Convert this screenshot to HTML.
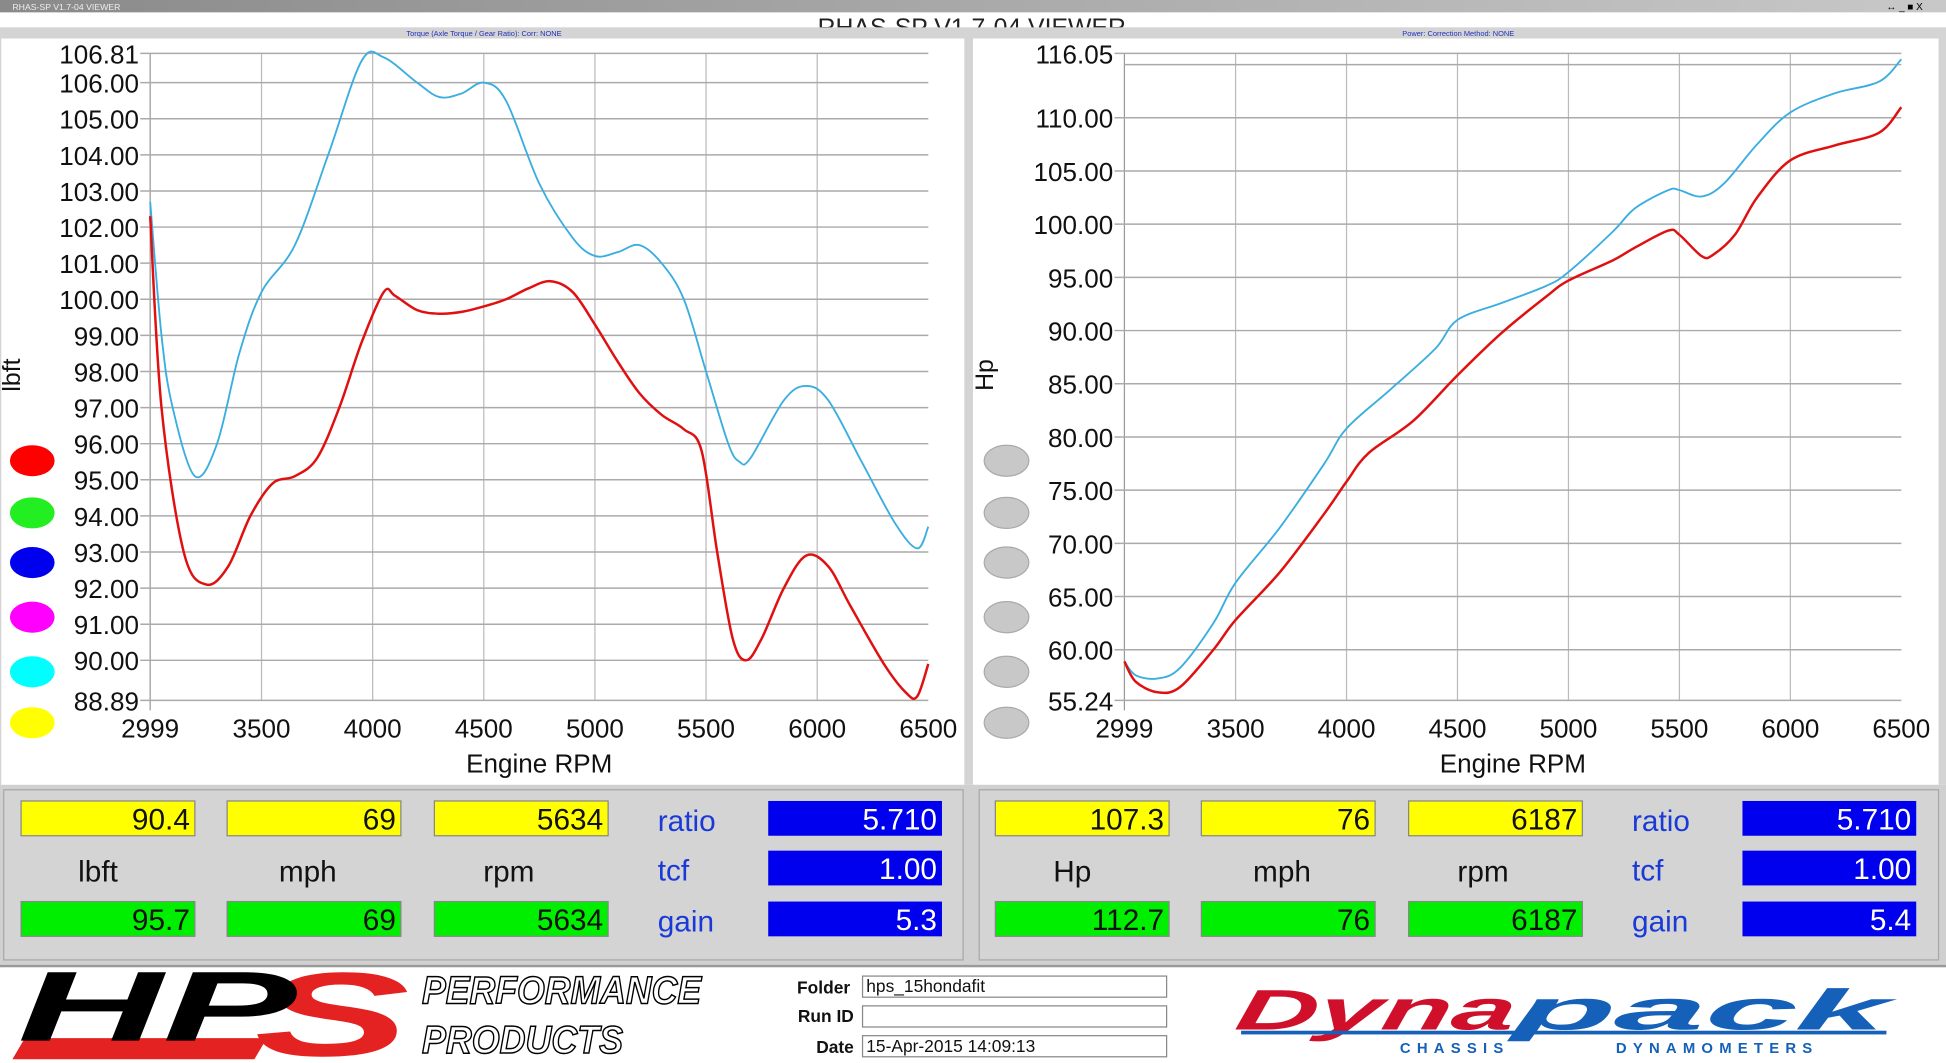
<!DOCTYPE html>
<html><head><meta charset="utf-8"><style>
html,body{margin:0;padding:0;background:#fff;overflow:hidden}
svg{display:block}
text{font-family:"Liberation Sans",Arial,sans-serif}
</style></head><body>
<svg id="s" width="1946" height="1063" viewBox="0 0 1568 856" preserveAspectRatio="none" xmlns="http://www.w3.org/2000/svg">
<defs><linearGradient id="tb" x1="0" y1="0" x2="1" y2="0"><stop offset="0" stop-color="#8a8a8a"/><stop offset="1" stop-color="#c8c8c8"/></linearGradient></defs>
<rect x="0" y="0" width="1568" height="856" fill="#fff"/>
<rect x="0" y="0" width="1568" height="10" fill="url(#tb)"/>
<text x="10" y="8" font-size="7" fill="#eee">RHAS-SP V1.7-04  VIEWER</text>
<text x="1520" y="8" font-size="8" fill="#000">↔ _ ■ X</text>
<rect x="0" y="10" width="1568" height="12" fill="#fff"/>
<text x="783" y="29" font-size="20" text-anchor="middle" fill="#222">RHAS-SP V1.7-04  VIEWER</text>
<rect x="0" y="22" width="1568" height="9" fill="#d4d4d4"/>
<text x="390" y="29" font-size="6" fill="#2233bb" text-anchor="middle">Torque (Axle Torque / Gear Ratio):     Corr: NONE</text>
<text x="1175" y="29" font-size="6" fill="#2233bb" text-anchor="middle">Power:     Correction Method: NONE</text>
<rect x="0" y="31" width="1568" height="601" fill="#d4d4d4"/>
<rect x="1" y="31" width="776" height="601" fill="#fff"/>
<rect x="784" y="31" width="778" height="601" fill="#fff"/>
<g id="charts"></g>
<rect x="0" y="632" width="1568" height="146" fill="#d0d0d0"/>
<rect x="3" y="636" width="773" height="137" fill="#d4d4d4" stroke="#a8a8a8"/>
<rect x="789" y="636" width="773" height="137" fill="#d4d4d4" stroke="#a8a8a8"/>
<g id="panels" font-size="24"></g>
<rect x="0" y="777" width="1568" height="2" fill="#999"/>
<rect x="0" y="779" width="1568" height="77" fill="#fff"/>
<!-- HPS logo -->
<g>
<path d="M20 836 L215 836 L205 853 L10 853 Z" fill="#e52222"/>
<text x="205" y="850" font-size="96" font-weight="bold" font-style="italic" fill="#e52222" textLength="125" lengthAdjust="spacingAndGlyphs">S</text>
<text x="14" y="838" font-size="80" font-weight="bold" font-style="italic" fill="#000" textLength="225" lengthAdjust="spacingAndGlyphs">HP</text>
<text x="340" y="808" font-size="31" font-style="italic" font-weight="bold" fill="#fff" stroke="#000" stroke-width="1.2" textLength="225" lengthAdjust="spacingAndGlyphs">PERFORMANCE</text>
<text x="340" y="848" font-size="31" font-style="italic" font-weight="bold" fill="#fff" stroke="#000" stroke-width="1.2" textLength="162" lengthAdjust="spacingAndGlyphs">PRODUCTS</text>
</g>
<g font-size="14" font-weight="bold" fill="#111" text-anchor="end">
<text x="685" y="800">Folder</text><text x="688" y="823">Run ID</text><text x="688" y="848">Date</text>
</g>
<g stroke="#888" fill="#fff">
<rect x="695" y="786" width="245" height="17"/><rect x="695" y="810" width="245" height="17"/><rect x="695" y="834" width="245" height="17"/>
</g>
<g font-size="14" fill="#111"><text x="698" y="799">hps_15hondafit</text><text x="698" y="847">15-Apr-2015  14:09:13</text></g>
<g font-style="italic" font-weight="bold">
<text x="995" y="829" font-size="46" fill="#d0102a" transform="skewX(-10) translate(145 0)" textLength="225" lengthAdjust="spacingAndGlyphs">Dyna</text>
<text x="1220" y="829" font-size="46" fill="#1560b8" transform="skewX(-10) translate(145 0)" textLength="300" lengthAdjust="spacingAndGlyphs">pack</text>
</g>
<rect x="1000" y="830" width="520" height="3" fill="#1560b8"/>
<text x="1128" y="848" font-size="12" font-weight="bold" fill="#1560b8" letter-spacing="5">CHASSIS</text>
<text x="1302" y="848" font-size="12" font-weight="bold" fill="#1560b8" letter-spacing="5">DYNAMOMETERS</text>
</svg>
<script>
var NS="http://www.w3.org/2000/svg";
function el(p,tag,a,txt){var e=document.createElementNS(NS,tag);for(var k in a)e.setAttribute(k,a[k]);if(txt!=null)e.textContent=txt;p.appendChild(e);return e;}
var G=document.getElementById('charts');
function chart(o){
 var X=function(r){return o.x0+(r-2999)/3501*(o.x1-o.x0);};
 var Y=function(v){return o.y0+(o.vmax-v)/(o.vmax-o.vmin)*(o.y1-o.y0);};
 [3500,4000,4500,5000,5500,6000].forEach(function(r){el(G,'line',{x1:X(r),x2:X(r),y1:o.y0,y2:o.y1,stroke:'#bbb','stroke-width':1});});
 el(G,'line',{x1:o.x0,x2:o.x0,y1:o.y0,y2:o.y1+8,stroke:'#999','stroke-width':1});
 o.ticks.forEach(function(v){var y=Y(v);el(G,'line',{x1:o.x0-8,x2:o.x1,y1:y,y2:y,stroke:'#aaa','stroke-width':1.2});
  el(G,'text',{x:o.x0-9,y:y+8,'font-size':21,'text-anchor':'end',fill:'#111'},v.toFixed(2));});
 (o.extra||[]).forEach(function(v){var y=Y(v);el(G,'line',{x1:o.x0,x2:o.x1,y1:y,y2:y,stroke:'#aaa','stroke-width':1.2});});
 [2999,3500,4000,4500,5000,5500,6000,6500].forEach(function(r){el(G,'text',{x:X(r),y:594,'font-size':21,'text-anchor':'middle',fill:'#111'},String(r));});
 el(G,'text',{x:(o.x0+o.x1)/2,y:622,'font-size':21,'text-anchor':'middle',fill:'#111'},'Engine RPM');
 el(G,'text',{x:0,y:0,'font-size':20,'text-anchor':'middle',fill:'#111',transform:'translate('+o.lx+' 302) rotate(-90)'},o.ylabel);
 o.series.forEach(function(s){var p=s.d.map(function(q){return [X(q[0]),Y(q[1])];});
  var d='M'+p[0][0]+' '+p[0][1];
  for(var i=0;i<p.length-1;i++){var a=p[i-1]||p[i],b=p[i],c=p[i+1],e=p[i+2]||c;
   d+=' C'+(b[0]+(c[0]-a[0])/6)+' '+(b[1]+(c[1]-a[1])/6)+' '+(c[0]-(e[0]-b[0])/6)+' '+(c[1]-(e[1]-b[1])/6)+' '+c[0]+' '+c[1];}
  el(G,'path',{d:d,fill:'none',stroke:s.c,'stroke-width':s.w});});
 o.dots.forEach(function(c,i){el(G,'ellipse',{cx:o.dx,cy:[371,413,453,497,541,582][i],rx:18,ry:12.5,fill:c,stroke:c=='#c8c8c8'?'#aaa':'none'});});
}
var t=[];for(var v=106;v>=90;v--)t.push(v);t.unshift(106.81);t.push(88.89);
chart({x0:121,x1:748,y0:43,y1:564,vmin:88.89,vmax:106.81,ticks:t,ylabel:'lbft',lx:16,dx:26,
 dots:['#ff0000','#22ee22','#0000ee','#ff00ff','#00ffff','#ffff00'],
 series:[
 {c:'#3aaee0',w:1.5,d:[[2999,102.7],[3050,99],[3100,97],[3200,95.1],[3300,96],[3400,98.5],[3500,100.2],[3650,101.5],[3800,104],[3950,106.6],[4050,106.7],[4200,106],[4300,105.6],[4400,105.7],[4500,106],[4600,105.5],[4750,103.2],[4900,101.7],[5000,101.2],[5100,101.3],[5200,101.5],[5300,101],[5400,100],[5500,98],[5600,96],[5650,95.5],[5700,95.6],[5850,97.2],[5950,97.6],[6050,97.2],[6200,95.5],[6350,93.8],[6450,93.1],[6500,93.7]]},
 {c:'#e01010',w:2,d:[[2999,102.3],[3050,97],[3150,93],[3250,92.1],[3350,92.6],[3450,94],[3550,94.9],[3650,95.1],[3750,95.6],[3850,97],[3950,98.8],[4050,100.2],[4100,100.1],[4200,99.7],[4300,99.6],[4400,99.65],[4500,99.8],[4600,100],[4700,100.3],[4800,100.5],[4900,100.2],[5000,99.3],[5100,98.3],[5200,97.4],[5300,96.8],[5400,96.4],[5480,95.8],[5550,93],[5620,90.6],[5680,90],[5750,90.6],[5850,92],[5950,92.9],[6050,92.6],[6150,91.5],[6300,89.9],[6400,89.1],[6450,89],[6500,89.9]]}]});
var t2=[116.05];for(var v=110;v>=60;v-=5)t2.push(v);t2.push(55.24);
chart({x0:906,x1:1532,y0:43,y1:564,vmin:55.24,vmax:116.05,ticks:t2,extra:[115],ylabel:'Hp',lx:800,dx:811,
 dots:['#c8c8c8','#c8c8c8','#c8c8c8','#c8c8c8','#c8c8c8','#c8c8c8'],
 series:[
 {c:'#3aaee0',w:1.5,d:[[2999,58.9],[3050,57.6],[3150,57.3],[3250,58.3],[3400,62.5],[3500,66.3],[3700,71.5],[3900,77.5],[4000,80.8],[4200,84.5],[4400,88.3],[4500,91],[4700,92.6],[4900,94.2],[5000,95.5],[5200,99.3],[5300,101.5],[5450,103.2],[5500,103.2],[5600,102.6],[5700,103.8],[5850,107.5],[6000,110.5],[6200,112.3],[6400,113.4],[6500,115.5]]},
 {c:'#e01010',w:2,d:[[2999,58.9],[3050,57],[3150,56],[3250,56.5],[3400,60],[3500,62.8],[3700,67.3],[3900,72.8],[4000,75.8],[4100,78.5],[4300,81.5],[4500,85.8],[4700,89.8],[4900,93.2],[5000,94.7],[5200,96.6],[5300,97.8],[5450,99.4],[5500,99],[5600,97],[5650,97.1],[5750,99],[5850,102.5],[6000,106],[6200,107.4],[6400,108.6],[6500,111]]}]});
var P=document.getElementById('panels');
function panel(ox,v){
 var xs=[17,183,350];
 xs.forEach(function(x,i){x+=ox;
  el(P,'rect',{x:x,y:645,width:140,height:28,fill:'#ffff00',stroke:'#888'});
  el(P,'text',{x:x+136,y:668,'text-anchor':'end',fill:'#111'},v.top[i]);
  el(P,'rect',{x:x,y:726,width:140,height:28,fill:'#00ee00',stroke:'#888'});
  el(P,'text',{x:x+136,y:749,'text-anchor':'end',fill:'#111'},v.bot[i]);
  el(P,'text',{x:x+[62,65,60][i],y:710,'text-anchor':'middle',fill:'#111'},v.lab[i]);});
 ['ratio','tcf','gain'].forEach(function(s,i){el(P,'text',{x:ox+530,y:[669,709,750][i],fill:'#1a3ad8'},s);});
 [[645,'5.710'],[685,'1.00'],[726,v.gain]].forEach(function(q){
  el(P,'rect',{x:ox+619,y:q[0],width:140,height:28,fill:'#0000ee'});
  el(P,'text',{x:ox+755,y:q[0]+23,'text-anchor':'end',fill:'#fff'},q[1]);});
}
panel(0,{top:['90.4','69','5634'],bot:['95.7','69','5634'],lab:['lbft','mph','rpm'],gain:'5.3'});
panel(785,{top:['107.3','76','6187'],bot:['112.7','76','6187'],lab:['Hp','mph','rpm'],gain:'5.4'});
</script>
</body></html>
